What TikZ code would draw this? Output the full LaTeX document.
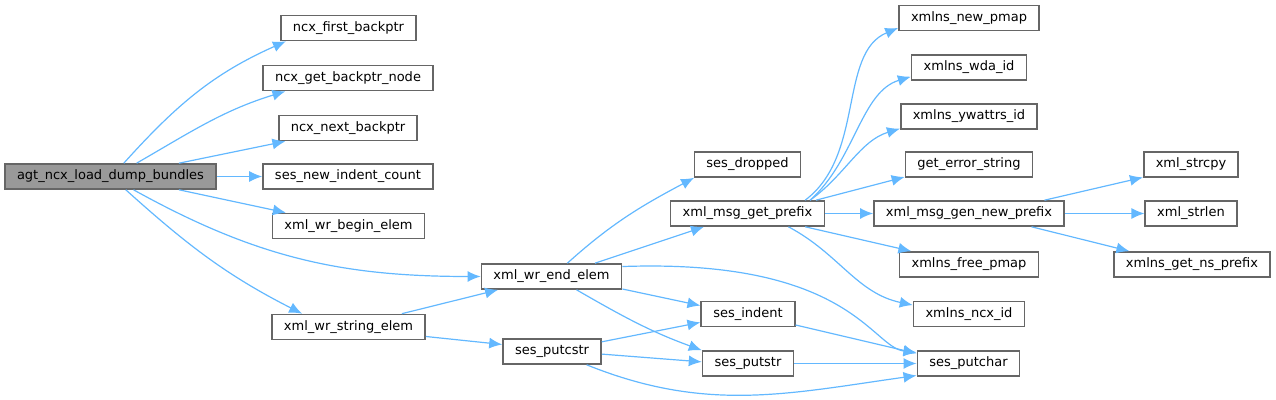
\documentclass[tikz,border=0pt]{standalone}
\usepackage{fontspec}
\setmainfont{DejaVu Sans}
\usetikzlibrary{arrows.meta}
\definecolor{edgeblue}{HTML}{63B8FF}
\definecolor{boxgray}{HTML}{666666}
\definecolor{rootgray}{HTML}{999999}

\begin{document}
\begin{tikzpicture}[x=0.5pt,y=0.5pt,
 fn/.style={draw=boxgray,line width=0.8pt,fill=white,minimum height=12.5pt,inner xsep=6pt,inner ysep=0pt,font=\fontsize{6.5}{8}\selectfont},
 rootfn/.style={fn,fill=rootgray},
 call/.style={draw=edgeblue,line width=0.6pt,-{Latex[length=6.5pt,width=5.5pt]}}]
 \useasboundingbox (0,0) rectangle (1276,-400);
 % first column
 \node[rootfn] (agt) at (110.5,-176.5) {agt\_ncx\_load\_dump\_bundles};
 \node[fn] (firstbp) at (348.5,-28) {ncx\_first\_backptr};
 \node[fn] (getbpnode) at (348,-78) {ncx\_get\_backptr\_node};
 \node[fn] (nextbp) at (348,-128) {ncx\_next\_backptr};
 \node[fn] (newindent) at (348,-176.5) {ses\_new\_indent\_count};
 \node[fn] (beginelem) at (348.5,-226) {xml\_wr\_begin\_elem};
 \node[fn] (stringelem) at (348.5,-327) {xml\_wr\_string\_elem};
 % second and third column
 \node[fn] (endelem) at (551.5,-276.5) {xml\_wr\_end\_elem};
 \node[fn] (putcstr) at (552,-351.5) {ses\_putcstr};
 \node[fn] (dropped) at (747.5,-164.5) {ses\_dropped};
 \node[fn] (getprefix) at (747.5,-213.5) {xml\_msg\_get\_prefix};
 \node[fn] (sesindent) at (748,-314) {ses\_indent};
 \node[fn] (putstr) at (748,-363.5) {ses\_putstr};
 % fourth column
 \node[fn] (newpmap) at (969,-18) {xmlns\_new\_pmap};
 \node[fn] (wdaid) at (969,-67.5) {xmlns\_wda\_id};
 \node[fn] (ywattrs) at (969,-116.5) {xmlns\_ywattrs\_id};
 \node[fn] (errstring) at (969,-164.5) {get\_error\_string};
 \node[fn] (genprefix) at (969,-213.5) {xml\_msg\_gen\_new\_prefix};
 \node[fn] (freepmap) at (969,-264.5) {xmlns\_free\_pmap};
 \node[fn] (ncxid) at (969,-314) {xmlns\_ncx\_id};
 \node[fn] (putchar) at (968.5,-363.5) {ses\_putchar};
 % last column
 \node[fn] (strcpy) at (1191,-164.5) {xml\_strcpy};
 \node[fn] (strlen) at (1191,-213.5) {xml\_strlen};
 \node[fn] (nsprefix) at (1192,-264.5) {xmlns\_get\_ns\_prefix};

 \draw[call] (agt.45) to[out=48,in=204] (firstbp.192);
 \draw[call] (agt.27) to[out=30,in=197] (getbpnode.192);
 \draw[call] (agt.11) -- (nextbp.192);
 \draw[call] (agt.east) -- (newindent.west);
 \draw[call] (agt.349) -- (beginelem.168);
 \draw[call] (agt.330) to[out=-29,in=180] (endelem.west);
 \draw[call] (agt.319) to[out=-42,in=153] (stringelem.164);
 \draw[call] (stringelem.14) -- (endelem.194);
 \draw[call] (stringelem.353) -- (putcstr.172);
 \draw[call] (endelem.40) to[out=42,in=208] (dropped.194);
 \draw[call] (endelem.17) -- (getprefix.197);
 \draw[call] (endelem.350) -- (sesindent.170);
 \draw[call] (endelem.332) to[out=-30,in=160] (putstr.164);
 \draw[call] (endelem.8) .. controls +(228,8) and +(-45,5) .. (putchar.168);
 \draw[call] (putcstr.11) -- (sesindent.190);
 \draw[call] (putcstr.357) -- (putstr.178);
 \draw[call] (putcstr.339) to[out=-22,in=188] (putchar.193);
 \draw[call] (sesindent.347) -- (putchar.169);
 \draw[call] (putstr.east) -- (putchar.west);
 \draw[call] (getprefix.13.4) .. controls +(60,45) and +(-60,-25) .. (newpmap.188);
 \draw[call] (getprefix.12.9) .. controls +(45,40) and +(-50,-15) .. (wdaid.189);
 \draw[call] (getprefix.12.3) .. controls +(35,25) and +(-40,-12) .. (ywattrs.190);
 \draw[call] (getprefix.11.3) -- (errstring.191.6);
 \draw[call] (getprefix.east) -- (genprefix.west);
 \draw[call] (getprefix.347) -- (freepmap.167);
 \draw[call] (getprefix.342) to[out=-28,in=168] (ncxid.171);
 \draw[call] (genprefix.10.5) -- (strcpy.195);
 \draw[call] (genprefix.east) -- (strlen.west);
 \draw[call] (genprefix.348) -- (nsprefix.168);
\end{tikzpicture}
\end{document}
